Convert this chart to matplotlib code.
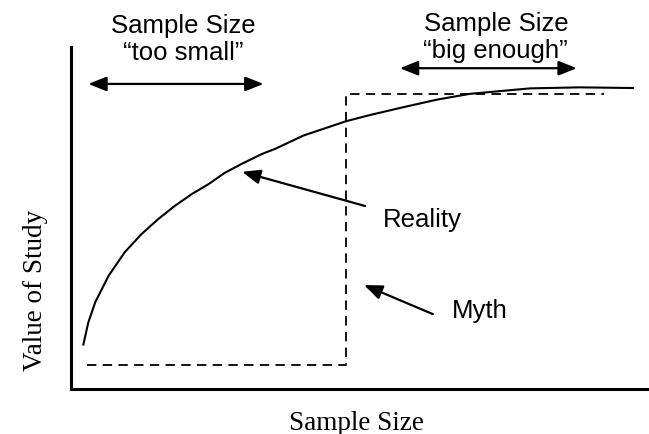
import matplotlib
matplotlib.use("Agg")
import matplotlib.pyplot as plt

# "reality" curve: value of study vs sample size (arbitrary 0-100 units)
reality_x = [2.1, 3.0, 4.2, 6.5, 9.3, 12.2, 15.1, 18.0, 20.9, 23.8, 26.6, 29.5,
             33.0, 35.3, 40.2, 47.6, 51.7, 57.5, 63.3, 69.0, 79.4, 88.0, 97.4]
reality_y = [12.7, 19.5, 25.4, 33.1, 40.0, 45.3, 49.7, 53.6, 57.0, 59.9, 63.2, 65.8,
             68.7, 70.2, 74.1, 78.3, 80.1, 82.4, 84.6, 86.3, 87.9, 88.2, 88.0]

# "myth" step: worthless until a threshold, then full value
myth_x = [2.8, 47.6, 47.6, 92.2]
myth_y = [7.0, 7.0, 86.2, 86.2]

# range arrows
small_range = [3.0, 33.3]
small_level = 89.2
big_range = [56.9, 87.5]
big_level = 93.8

# pointer arrows (tail, head)
reality_tail, reality_head = (50.9, 53.5), (29.6, 63.5)
myth_tail, myth_head = (62.6, 21.9), (50.7, 30.4)

sans = "Liberation Sans"
serif = "Liberation Serif"
fs = 18.5
fs_serif = 19.5

fig = plt.figure(figsize=(6.49, 4.35), dpi=100)
ax = fig.add_axes([71 / 649, 45 / 435, 578 / 649, 342 / 435])
ax.set_xlim(0, 100)
ax.set_ylim(0, 100)
ax.set_xticks([])
ax.set_yticks([])
for side in ["top", "right"]:
    ax.spines[side].set_visible(False)
for side in ["left", "bottom"]:
    ax.spines[side].set_linewidth(2.2)
    ax.spines[side].set_color("black")

ax.plot(reality_x, reality_y, color="black", lw=1.5, solid_capstyle="butt",
        solid_joinstyle="round")
ax.plot(myth_x, myth_y, color="black", lw=1.3, dashes=(5.2, 3.5))

arrow_style = "<|-|>,head_length=0.55,head_width=0.22"
for rng, lvl in [(small_range, small_level), (big_range, big_level)]:
    ax.annotate("", xy=(rng[1], lvl), xytext=(rng[0], lvl),
                arrowprops=dict(arrowstyle=arrow_style, mutation_scale=20,
                                lw=1.6, color="black", shrinkA=0, shrinkB=0))

for tail, head in [(reality_tail, reality_head), (myth_tail, myth_head)]:
    ax.annotate("", xy=head, xytext=tail,
                arrowprops=dict(arrowstyle="-|>,head_length=0.55,head_width=0.22",
                                mutation_scale=20, lw=1.6, color="black",
                                shrinkA=0, shrinkB=0))

ax.text(19.5, 104.4, "Sample Size", ha="center", va="baseline",
        fontsize=fs, family=sans, clip_on=False)
ax.text(19.5, 96.5, "\u201ctoo small\u201d", ha="center", va="baseline",
        fontsize=fs, family=sans)
ax.text(73.5, 105.0, "Sample Size", ha="center", va="baseline",
        fontsize=fs, family=sans, clip_on=False)
ax.text(73.5, 97.1, "\u201cbig enough\u201d", ha="center", va="baseline",
        fontsize=fs, family=sans)
ax.text(54.0, 47.7, "Reality", ha="left", va="baseline", fontsize=fs, family=sans)
ax.text(65.9, 21.0, "Myth", ha="left", va="baseline", fontsize=fs, family=sans)

ax.text(49.3, -11.7, "Sample Size", ha="center", va="baseline",
        fontsize=fs_serif, family=serif, clip_on=False)
ax.text(-5.0, 29.2, "Value of Study", ha="center", va="baseline",
        rotation=90, rotation_mode="anchor", fontsize=fs_serif, family=serif,
        clip_on=False)

fig.savefig("out.png", dpi=100)
